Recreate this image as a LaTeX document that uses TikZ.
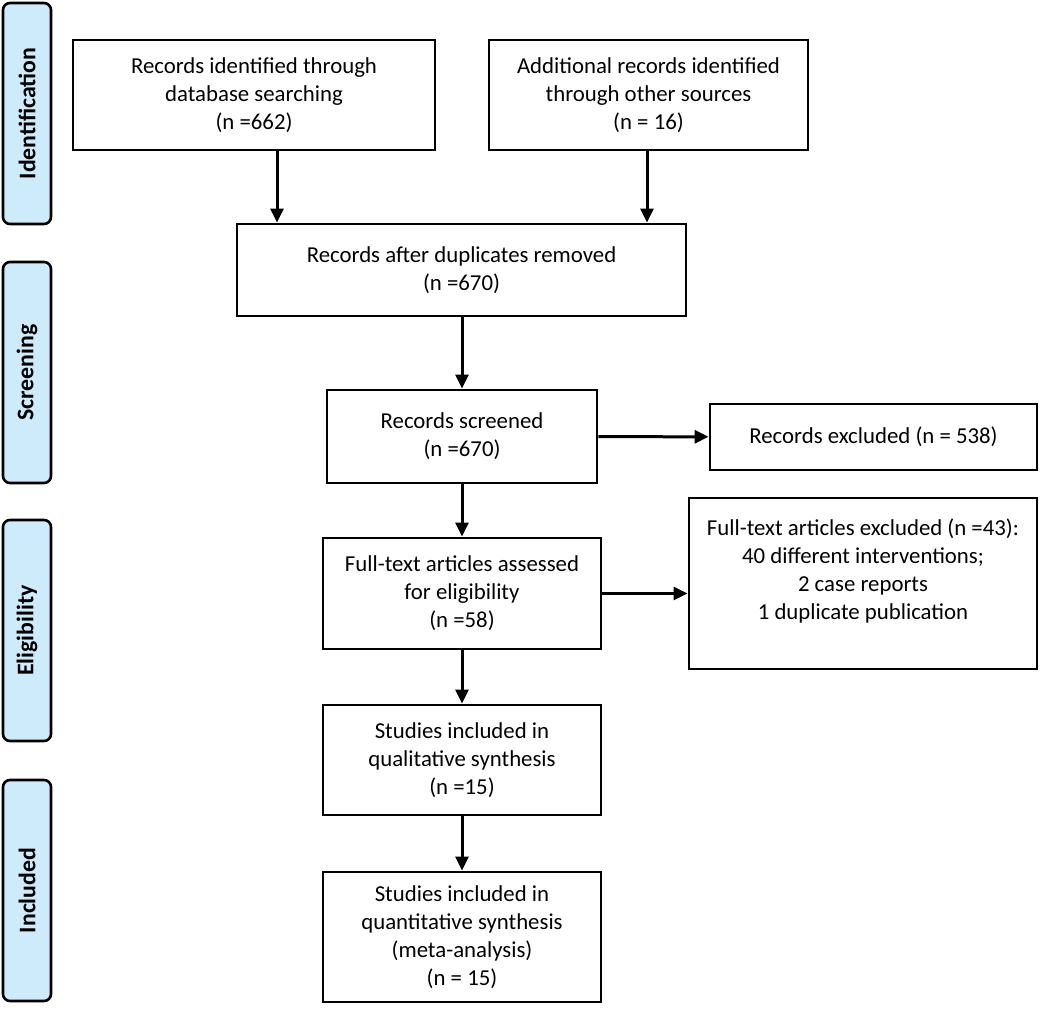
\documentclass[tikz,border=0pt]{standalone}
\usepackage{fontspec}
\setmainfont{Carlito}
\usetikzlibrary{arrows.meta}
\definecolor{phaseblue}{RGB}{206,235,252}
\begin{document}
\begin{tikzpicture}[x=1pt,y=-1pt,
  box/.style={draw=black,line width=2.9pt,align=center,inner sep=0pt,
    font=\fontsize{22.8}{28}\selectfont},
  phase/.style={draw=black,line width=2.6pt,fill=phaseblue,rounded corners=7pt,
    minimum width=48pt,minimum height=221pt,inner sep=0pt},
  phaselabel/.style={rotate=90,font=\fontsize{23.8}{26}\selectfont\bfseries},
  arr/.style={line width=3pt,-{Triangle[length=14pt,width=13pt]}}]
\useasboundingbox (0,0) rectangle (1040,1022);
\fill[white] (0,0) rectangle (1040,1022);
% phase bars
\node[phase] (pI) at (27,113.5) {};
\node[phaselabel] (lI) at (pI.center) {Identification};
\node[phase] (pS) at (27,372.5) {};
\node[phaselabel] (lS) at (pS.center) {Screening};
\node[phase] (pE) at (27,630.5) {};
\node[phaselabel] (lE) at (pE.center) {Eligibility};
\node[phase] (pN) at (27,890.5) {};
\node[phaselabel] (lN) at (pN.center) {Included};
% boxes
\node[box,minimum width=362pt,minimum height=110pt] (b1) at (254,95)
  {Records identified through\\database searching\\(n =662)};
\node[box,minimum width=319pt,minimum height=110pt] (b2) at (648.5,95)
  {Additional records identified\\through other sources\\(n = 16)};
\node[box,minimum width=449pt,minimum height=92pt] (b3) at (461.5,270)
  {Records after duplicates removed\\(n =670)};
\node[box,minimum width=270pt,minimum height=93pt] (b4) at (462,436.5)
  {Records screened\\(n =670)};
\node[box,minimum width=327pt,minimum height=66pt] (e1) at (873.5,437)
  {Records excluded (n = 538)};
\node[box,minimum width=278pt,minimum height=111pt] (b5) at (462,593.5)
  {Full-text articles assessed\\for eligibility\\(n =58)};
\node[box,minimum width=348pt,minimum height=171pt] (e2) at (863,583.5)
  {Full-text articles excluded (n =43):\\40 different interventions;\\2 case reports\\1 duplicate publication\\\mbox{}};
\node[box,minimum width=278pt,minimum height=110pt] (b6) at (462,760)
  {Studies included in\\qualitative synthesis\\(n =15)};
\node[box,minimum width=278pt,minimum height=130pt] (b7) at (462,937)
  {Studies included in\\quantitative synthesis\\(meta-analysis)\\(n = 15)};
% arrows
\draw[arr] ([xshift=23pt]b1.south) -- ([xshift=23pt]b1.south |- b3.north);
\draw[arr] ([xshift=-1.5pt]b2.south) -- ([xshift=-1.5pt]b2.south |- b3.north);
\draw[arr] (b3.south -| b4.north) -- (b4.north);
\draw[arr] (b4) -- (e1);
\draw[arr] (b4.south) -- (b5.north);
\draw[arr] (b5.east) -- (b5.east -| e2.west);
\draw[arr] (b5.south) -- (b6.north);
\draw[arr] (b6.south) -- (b7.north);
\end{tikzpicture}
\end{document}
